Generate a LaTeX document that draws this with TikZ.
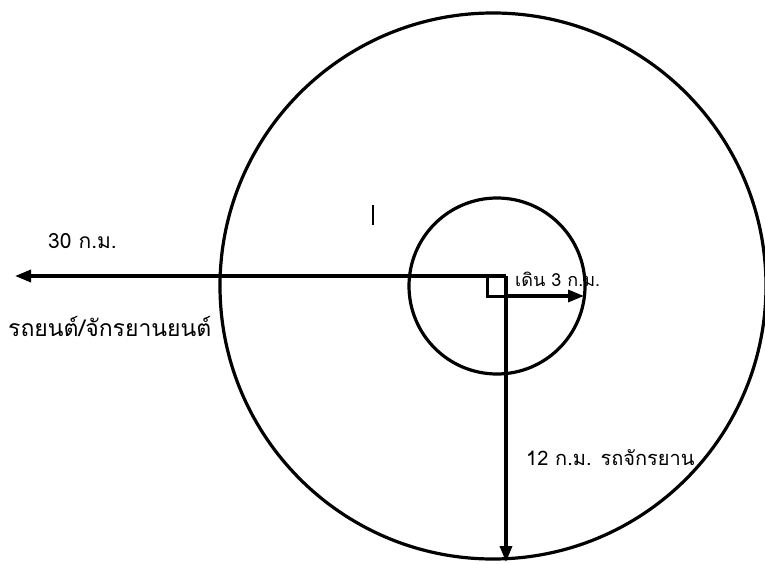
\documentclass[tikz,border=0pt]{standalone}
\usepackage{fontspec}
\newfontfamily\thaifont[Script=Thai]{Loma}
\usetikzlibrary{arrows.meta}

\begin{document}
\begin{tikzpicture}[x=1pt, y=-1pt,
    anillo/.style={circle, draw, line width=3.2pt, inner sep=0pt},
    flecha/.style={line width=3.4pt, -{Triangle[length=16pt, width=12pt]}},
    etiqueta/.style={font=\thaifont\fontsize{#1}{#1}\selectfont, inner sep=0pt, anchor=west}]

        \useasboundingbox (0,0) rectangle (765,564);

        % Circulos
        \node[anillo, minimum size=546pt] (grande) at (493, 286) {};
        \node[anillo, minimum size=176pt] (chico) at (497, 286) {};

        % Puntos de las flechas
        \coordinate (o) at (506, 276);
        \coordinate (ob) at (506, 296);
        \coordinate (oeste) at (15, 276);
        \coordinate (este) at (584, 296);
        \coordinate (sur) at (506, 562);

        % Flechas
        \draw[flecha] (o) -- (oeste);
        \draw[flecha] (ob) -- (este);
        \draw[flecha] (o) -- (sur);

        % Angulo recto
        \draw[line width=3pt] (o) -- (487, 276) -- (487, 296) -- (ob);

        % Marca suelta
        \draw[line width=2.6pt] (373, 205) -- (373, 225);

        % Etiquetas
        \node[etiqueta=21] (t30) at (48, 241) {30 ก.ม.};
        \node[etiqueta=23] (auto) at (8, 326) {รถยนต์/จักรยานยนต์};
        \node[etiqueta=18] (pie) at (515, 279) {เดิน 3 ก.ม.};
        \node[etiqueta=20] (bici) at (526, 458) {12 ก.ม. รถจักรยาน};

    \end{tikzpicture}
\end{document}
